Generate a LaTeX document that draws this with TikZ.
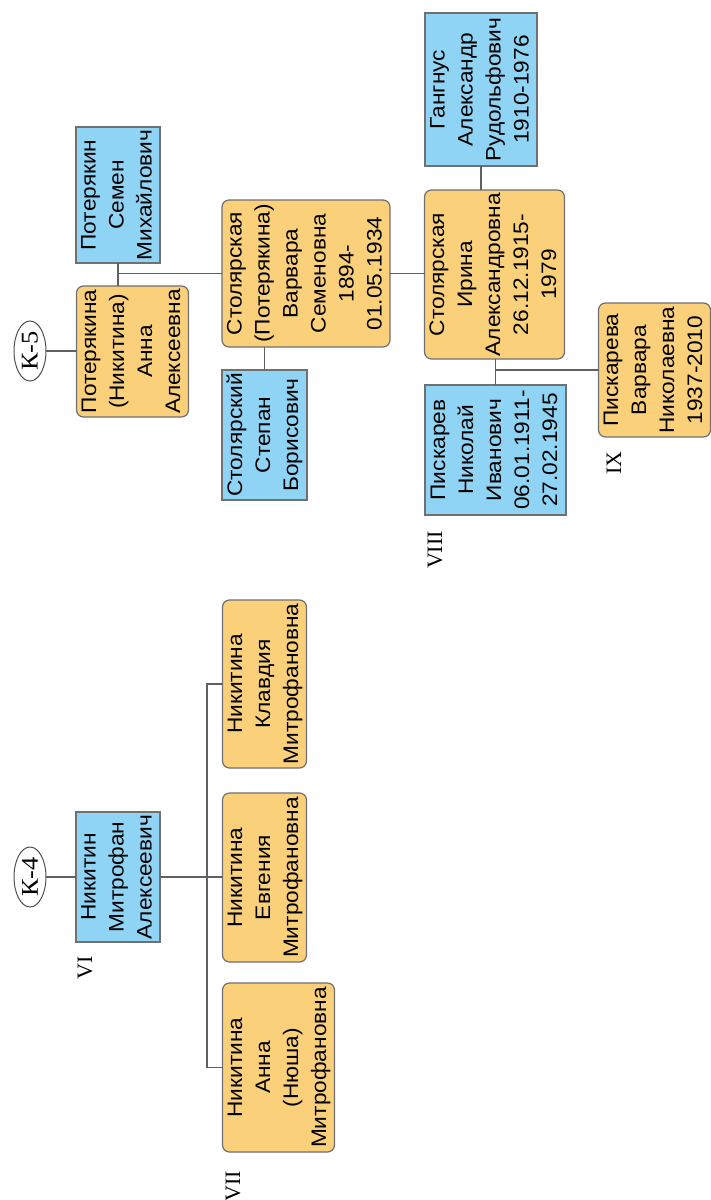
\documentclass[tikz,border=0pt]{standalone}
\usepackage{fontspec}
\setmainfont{Liberation Serif}
\setsansfont{Liberation Sans}
\usetikzlibrary{shapes.geometric}

\begin{document}
\begin{tikzpicture}[x=1pt,y=-1pt,line cap=rect,
	person/.style={draw=custcol_70_70_70, line width=1.2pt, inner sep=0pt, font=\sffamily\fontsize{21pt}{28pt}\selectfont},
	male/.style={person, fill=custcol_8f_d4_f4},
	female/.style={person, fill=custcol_fa_d0_7a, rounded corners=7pt},
	branch/.style={ellipse, draw=custcol_50_50_50, line width=1pt, inner sep=0pt, minimum width=32pt, minimum height=60pt, font=\fontsize{24pt}{24pt}\selectfont},
	gen/.style={inner sep=0pt, font=\fontsize{22pt}{22pt}\selectfont},
	link/.style={draw=custcol_60_60_60, line width=1.2pt}]
	\definecolor{custcol_8f_d4_f4}{RGB}{143, 212, 244}
	\definecolor{custcol_fa_d0_7a}{RGB}{250, 208, 122}
	\definecolor{custcol_70_70_70}{RGB}{112, 112, 112}
	\definecolor{custcol_60_60_60}{RGB}{96, 96, 96}
	\definecolor{custcol_50_50_50}{RGB}{80, 80, 80}
	\def\vtext#1{\rotatebox{90}{\scalebox{1.08}[1]{\begin{tabular}{@{}c@{}}#1\end{tabular}}}}
	\useasboundingbox [fill=white] (0,0) rectangle (711,1200);
	% branch K-5
	\node[branch] (k5) at (30,351) {\rotatebox{90}{\scalebox{1.1}[1]{К-5}}};
	\node[male, minimum width=84pt, minimum height=136pt] (potS) at (118,195) {\vtext{Потерякин\\Семен\\Михайлович}};
	\node[female, minimum width=111pt, minimum height=131pt] (potA) at (132.5,351.5) {\vtext{Потерякина\\(Никитина)\\Анна\\Алексеевна}};
	\node[female, minimum width=168pt, minimum height=147pt] (varv) at (306,273.5) {\vtext{Столярская\\(Потерякина)\\Варвара\\Семеновна\\1894-\\01.05.1934}};
	\node[male, minimum width=85pt, minimum height=130pt] (stepan) at (264.5,435) {\vtext{Столярский\\Степан\\Борисович}};
	\node[female, minimum width=139pt, minimum height=169pt] (irina) at (494.5,274.5) {\vtext{Столярская\\Ирина\\Александровна\\26.12.1915-\\1979}};
	\node[male, minimum width=112pt, minimum height=153pt] (gang) at (481,89.5) {\vtext{Гангнус\\Александр\\Рудольфович\\1910-1976}};
	\node[male, minimum width=141pt, minimum height=130pt] (nikI) at (495.5,450) {\vtext{Пискарев\\Николай\\Иванович\\06.01.1911-\\27.02.1945}};
	\node[female, minimum width=111pt, minimum height=134pt] (varvP) at (654.5,370) {\vtext{Пискарева\\Варвара\\Николаевна\\1937-2010}};
	\node[gen] (g8) at (435,550) {\rotatebox{90}{VIII}};
	\node[gen] (g9) at (614,463) {\rotatebox{90}{IX}};
	% branch K-4
	\node[branch] (k4) at (30,877) {\rotatebox{90}{\scalebox{1.1}[1]{К-4}}};
	\node[male, minimum width=84pt, minimum height=130pt] (mitr) at (118,877) {\vtext{Никитин\\Митрофан\\Алексеевич}};
	\node[female, minimum width=83pt, minimum height=168pt] (klav) at (264.5,684) {\vtext{Никитина\\Клавдия\\Митрофановна}};
	\node[female, minimum width=83pt, minimum height=169pt] (evg) at (264.5,877.5) {\vtext{Никитина\\Евгения\\Митрофановна}};
	\node[female, minimum width=111pt, minimum height=169pt] (annaN) at (278.5,1067.5) {\vtext{Никитина\\Анна\\(Нюша)\\Митрофановна}};
	\node[gen] (g6) at (85,968) {\rotatebox{90}{VI}};
	\node[gen] (g7) at (233,1186) {\rotatebox{90}{VII}};
	\coordinate (trunk) at (207,877);
	\draw[link] (k5.east) -- (k5.east -| potA.west);
	\draw[link] (potS.south) -- (potS.south |- potA.north);
	\draw[link] (potS.south |- varv.west) -- (varv.west);
	\draw[link] (stepan.north |- varv.south) -- (stepan.north);
	\draw[link] (varv.east) -- (varv.east -| irina.west);
	\draw[link] (gang.south) -- (gang.south |- irina.north);
	\draw[link] (nikI.north |- irina.south) -- (nikI.north);
	\draw[link] (nikI.north |- varvP.west) -- (varvP.west);
	\draw[link] (k4.east) -- (k4.east -| mitr.west);
	\draw[link] (mitr.east) -- (mitr.east -| evg.west);
	\draw[link] (klav.west) -- (klav.west -| trunk) -- (annaN.west -| trunk) -- (annaN.west);
\end{tikzpicture}
\end{document}
